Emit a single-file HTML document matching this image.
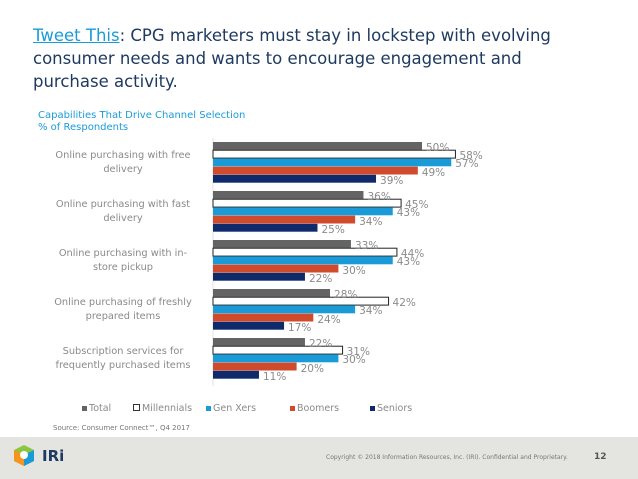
<!DOCTYPE html>
<html><head><meta charset="utf-8"><style>
body{margin:0;width:638px;height:479px;overflow:hidden;background:#fff;font-family:"DejaVu Sans","Liberation Sans",sans-serif;position:relative}
.t{position:absolute;left:33px;top:24px;width:548px;font-size:16.5px;line-height:23px;color:#1f3a60}
.t a{color:#1a9bd7;text-decoration:underline}
.sub{position:absolute;left:38px;top:110px;font-size:10px;line-height:12px;color:#1a9bd7}
.cat{position:absolute;left:36px;width:174px;text-align:center;font-size:9.8px;line-height:14px;color:#8a8a8a}
.val{position:absolute;font-size:10.5px;color:#8a8a8a;line-height:11px}
.foot{position:absolute;left:0;top:437px;width:638px;height:42px;background:#e4e4e0}
</style></head><body>
<div class="t"><a>Tweet This</a>: CPG marketers must stay in lockstep with evolving consumer needs and wants to encourage engagement and purchase activity.</div>
<div class="sub">Capabilities That Drive Channel Selection<br>% of Respondents</div>
<svg width="638" height="479" style="position:absolute;left:0;top:0" id="svg">
<line x1="213" y1="138" x2="213" y2="386" stroke="#e0e0e0"/>
</svg>
<div style="position:absolute;left:0;top:403px;width:638px;font-size:9.5px;color:#8a8a8a" id="legend"></div>
<div style="position:absolute;left:53px;top:424px;font-size:7px;color:#777">Source: Consumer Connect™, Q4 2017</div>
<div class="foot">
<svg width="30" height="30" style="position:absolute;left:12px;top:6px">
<polygon points="12,2 22,7 22,18 12,23 2,18 2,7" fill="#8cc63f"/><polygon points="12,12 22,7 22,18 12,23" fill="#1a9bd7"/><polygon points="2,7 12,12 12,23 2,18" fill="#f7941d"/><circle cx="12" cy="12" r="4" fill="#fff"/></svg>
<div style="position:absolute;left:42px;top:10px;font-size:15px;font-weight:bold;color:#1f3a60">IRi</div>
<div style="position:absolute;left:326px;top:17px;font-size:6px;color:#777;white-space:nowrap">Copyright © 2018 Information Resources, Inc. (IRI). Confidential and Proprietary.</div>
<div style="position:absolute;left:594px;top:15px;font-size:9px;font-weight:bold;color:#555">12</div>
</div>
<script>
const categories=["Online purchasing with free delivery","Online purchasing with fast delivery","Online purchasing with in-store pickup","Online purchasing of freshly prepared items","Subscription services for frequently purchased items"];
const catLines=[["Online purchasing with free","delivery"],["Online purchasing with fast","delivery"],["Online purchasing with in-","store pickup"],["Online purchasing of freshly","prepared items"],["Subscription services for","frequently purchased items"]];
const seriesNames=["Total","Millennials","Gen Xers","Boomers","Seniors"];
const seriesColors=["#646464","#ffffff","#1a9bd7","#d04a2c","#0f2a6b"];
const total=[50,36,33,28,22];
const millennials=[58,45,44,42,31];
const genx=[57,43,43,34,30];
const boomers=[49,34,30,24,20];
const seniors=[39,25,22,17,11];
const series=[total,millennials,genx,boomers,seniors];
const NS="http://www.w3.org/2000/svg";
const svg=document.getElementById('svg');
const x0=213,k=4.18,g0=142,pitch=49,bh=8.2;
const xs=v=>x0+v*k;
categories.forEach((c,i)=>{
 const d=document.createElement('div');
 d.className='cat';
 
 
 d.style.top=(g0+i*pitch+7)+'px';
 d.innerHTML=catLines[i].join('<br>');
 document.body.appendChild(d);
 series.forEach((s,j)=>{
  const y=g0+i*pitch+j*bh;
  const r=document.createElementNS(NS,'rect');
  r.setAttribute('x',x0);r.setAttribute('y',y);
  r.setAttribute('width',xs(s[i])-x0);r.setAttribute('height',bh-0.3);
  r.setAttribute('fill',seriesColors[j]);
  if(j==1){r.setAttribute('stroke','#222');r.setAttribute('stroke-width','1');}
  
  
  svg.appendChild(r);
  const t=document.createElement('div');
  t.className='val';
  
  
  t.style.left=(xs(s[i])+4)+'px';t.style.top=(y+1)+'px';
  t.textContent=s[i]+'%';
  document.body.appendChild(t);
 });
});
const lx=[82,133,206,290,370];
const lg=document.getElementById('legend');
seriesNames.forEach((n,j)=>{
 const e=document.createElement('span');
 
 
 e.style.cssText='position:absolute;left:'+lx[j]+'px;top:0';
 e.innerHTML='<span style="display:inline-block;width:5px;height:5px;margin-right:2px;background:'+seriesColors[j]+';border:'+(j==1?'1px solid #333':'0')+'"></span>'+n;
 lg.appendChild(e);
});
</script>
</body></html>
